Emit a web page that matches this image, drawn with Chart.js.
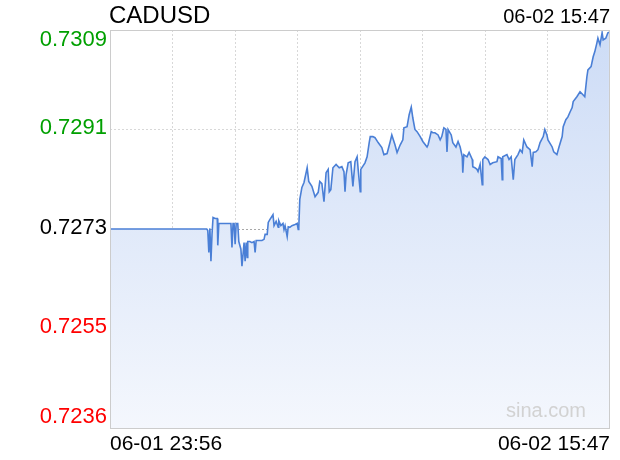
<!DOCTYPE html>
<html><head><meta charset="utf-8">
<script src="https://cdn.jsdelivr.net/npm/chart.js@4"></script>
<style>html,body{margin:0;padding:0;background:#fff}canvas{display:block}</style>
</head><body>
<canvas id="c" width="620" height="460"></canvas>
<script>
const symbol = 'CADUSD';
const startLabel = '06-01 23:56';
const endLabel = '06-02 15:47';
const watermark = 'sina.com';
const yTickLabels = ['0.7309', '0.7291', '0.7273', '0.7255', '0.7236'];
const prevClose = 0.72729;
const yMin = 0.72364;
const yMax = 0.73094;
const totalMinutes = 951;

const minutes = [0,184,186,188,190,192,194,196,200,204,205,207,219,230,232,234,236,238,240,243,245,249,251,253,255,257,259,261,262,266,270,274,276,278,289,293,295,299,301,304,310,312,316,320,321,325,329,331,333,337,339,342,346,352,356,358,359,361,365,369,375,378,384,390,396,399,403,407,411,415,417,420,424,430,436,441,445,447,449,453,458,462,466,470,472,476,477,485,489,493,495,500,504,510,517,521,527,533,536,542,546,552,557,559,565,569,573,576,580,584,590,595,603,605,611,614,618,624,628,631,635,639,641,643,649,652,658,662,666,670,671,673,679,683,689,690,694,698,700,704,708,709,713,719,723,728,736,738,744,746,747,755,759,763,767,770,776,780,784,787,793,799,803,805,810,814,818,824,827,831,833,841,844,850,854,860,862,867,871,875,879,881,888,894,900,903,907,909,915,919,922,926,928,932,936,938,943,947,949];

const prices = [0.72730,0.72730,0.72727,0.72687,0.72731,0.72671,0.72720,0.72751,0.72749,0.72749,0.72700,0.72740,0.72740,0.72740,0.72696,0.72740,0.72740,0.72702,0.72740,0.72740,0.72707,0.72693,0.72662,0.72683,0.72705,0.72671,0.72705,0.72678,0.72707,0.72707,0.72705,0.72707,0.72687,0.72709,0.72709,0.72711,0.72720,0.72720,0.72742,0.72747,0.72756,0.72736,0.72744,0.72733,0.72745,0.72736,0.72740,0.72729,0.72736,0.72716,0.72734,0.72733,0.72736,0.72738,0.72740,0.72729,0.72731,0.72784,0.72806,0.72815,0.72842,0.72817,0.72808,0.72789,0.72797,0.72817,0.72813,0.72780,0.72833,0.72839,0.72798,0.72802,0.72842,0.72848,0.72842,0.72844,0.72835,0.72798,0.72829,0.72851,0.72853,0.72808,0.72853,0.72862,0.72839,0.72798,0.72839,0.72851,0.72862,0.72888,0.72899,0.72899,0.72897,0.72888,0.72879,0.72866,0.72868,0.72890,0.72902,0.72884,0.72870,0.72884,0.72893,0.72915,0.72917,0.72939,0.72953,0.72933,0.72912,0.72908,0.72899,0.72890,0.72880,0.72884,0.72908,0.72906,0.72906,0.72902,0.72893,0.72899,0.72915,0.72912,0.72871,0.72912,0.72902,0.72888,0.72880,0.72890,0.72880,0.72862,0.72833,0.72866,0.72862,0.72870,0.72857,0.72844,0.72842,0.72839,0.72835,0.72848,0.72811,0.72857,0.72862,0.72857,0.72848,0.72851,0.72853,0.72862,0.72859,0.72820,0.72862,0.72866,0.72857,0.72862,0.72820,0.72857,0.72866,0.72875,0.72870,0.72893,0.72880,0.72875,0.72844,0.72870,0.72871,0.72875,0.72888,0.72899,0.72912,0.72902,0.72893,0.72880,0.72871,0.72866,0.72880,0.72899,0.72917,0.72930,0.72935,0.72944,0.72952,0.72963,0.72972,0.72981,0.72975,0.72972,0.73008,0.73021,0.73027,0.73045,0.73054,0.73070,0.73079,0.73067,0.73089,0.73076,0.73079,0.73089,0.73090];

const yTickValues = yTickLabels.map((_, i) => yMax - (yMax - yMin) * i / (yTickLabels.length - 1));
const points = minutes.map((m, i) => ({ x: m, y: prices[i] }));
const FONT = '"Liberation Sans", Arial, Helvetica, sans-serif';

function labelColor(i) {
  const v = parseFloat(yTickLabels[i]);
  if (Math.abs(v - prevClose) < 0.00005) return '#000000';
  return v > prevClose ? '#00a000' : '#ff0000';
}

const overlay = {
  id: 'overlay',
  afterDatasetsDraw(chart) {
    const { ctx, chartArea: a } = chart;
    ctx.save();
    ctx.font = '20px ' + FONT;
    ctx.fillStyle = '#d2d2d2';
    ctx.textAlign = 'right';
    ctx.textBaseline = 'middle';
    ctx.fillText(watermark, a.right - 24, a.bottom - 18);
    ctx.restore();
  },
  afterDraw(chart) {
    const { ctx, chartArea: a, scales: { y } } = chart;
    ctx.save();
    ctx.strokeStyle = '#cccccc';
    ctx.lineWidth = 1;
    ctx.strokeRect(a.left + 0.5, a.top + 0.5, a.right - a.left - 1, a.bottom - a.top - 1);
    ctx.font = '22px ' + FONT;
    ctx.textBaseline = 'middle';
    ctx.textAlign = 'right';
    yTickValues.forEach((v, i) => {
      let py = y.getPixelForValue(v) - 2;
      py = Math.max(a.top + 10, Math.min(a.bottom - 12, py));
      ctx.fillStyle = labelColor(i);
      ctx.fillText(yTickLabels[i], a.left - 3, py);
    });
    ctx.fillStyle = '#000';
    ctx.font = '24px ' + FONT;
    ctx.textAlign = 'left';
    ctx.fillText(symbol, a.left - 1, 16);
    ctx.font = '20px ' + FONT;
    ctx.textAlign = 'right';
    ctx.fillText(endLabel, a.right, 17);
    ctx.font = '21px ' + FONT;
    ctx.textAlign = 'left';
    ctx.fillText(startLabel, a.left, a.bottom + 15);
    ctx.textAlign = 'right';
    ctx.fillText(endLabel, a.right, a.bottom + 15);
    ctx.restore();
  }
};

new Chart(document.getElementById('c'), {
  type: 'line',
  data: {
    datasets: [{
      data: points,
      borderColor: '#4a7fd6',
      borderWidth: 1.6,
      pointRadius: 0,
      tension: 0,
      fill: 'start',
      backgroundColor(context) {
        const a = context.chart.chartArea;
        if (!a) return 'rgba(210,225,248,0.8)';
        const g = context.chart.ctx.createLinearGradient(0, a.top, 0, a.bottom);
        g.addColorStop(0, '#cddcf6');
        g.addColorStop(1, '#f4f7fd');
        return g;
      }
    }]
  },
  options: {
    responsive: false,
    animation: false,
    events: [],
    layout: { padding: { left: 110, right: 10, top: 30, bottom: 31 } },
    plugins: { legend: { display: false }, tooltip: { enabled: false }, title: { display: false } },
    scales: {
      x: {
        type: 'linear',
        min: 0,
        max: totalMinutes,
        afterBuildTicks(scale) {
          scale.ticks = [1, 2, 3, 4, 5, 6, 7].map(i => ({ value: totalMinutes * i / 8 }));
        },
        ticks: { display: false },
        grid: { color: '#d8d8d8', drawTicks: false, lineWidth: 1 },
        border: { display: false, dash: [2, 2] }
      },
      y: {
        min: yMin,
        max: yMax,
        afterBuildTicks(scale) {
          scale.ticks = yTickValues.slice(1, -1).map(v => ({ value: v }));
        },
        ticks: { display: false },
        grid: {
          drawTicks: false,
          lineWidth: 1,
          color(ctx) {
            const v = ctx.tick && ctx.tick.value;
            return Math.abs(v - prevClose) < 0.00005 ? '#a8a8a8' : '#d8d8d8';
          }
        },
        border: { display: false, dash: [2, 2] }
      }
    }
  },
  plugins: [overlay]
});
</script>
</body></html>
